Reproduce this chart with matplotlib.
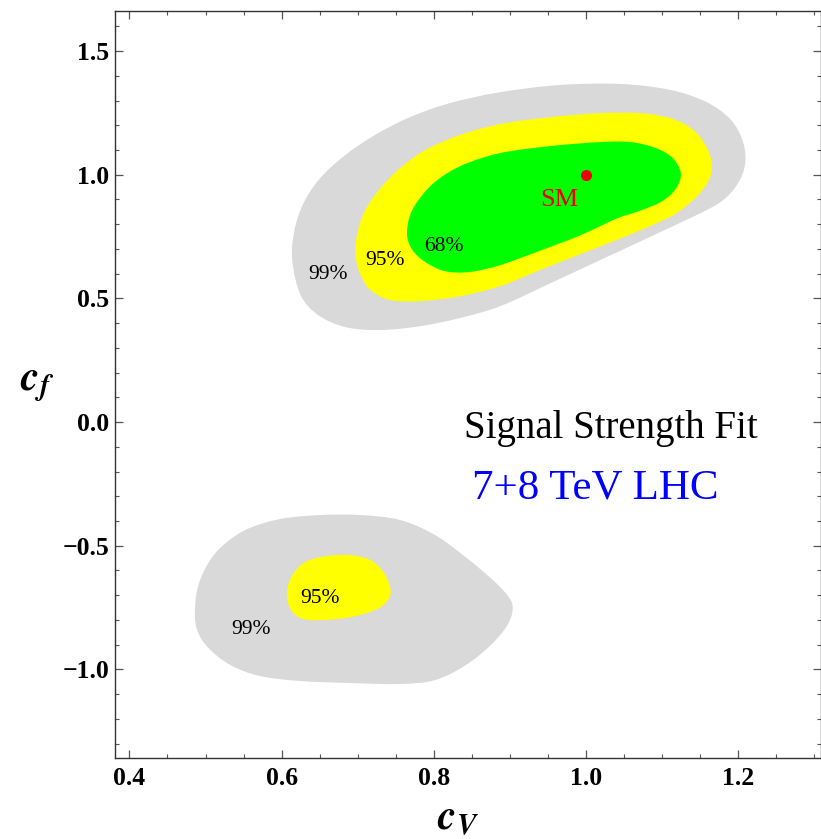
import numpy as np
import matplotlib
matplotlib.use('Agg')
import matplotlib.pyplot as plt
from matplotlib.path import Path
from matplotlib.patches import PathPatch
from matplotlib.ticker import MultipleLocator

plt.rcParams['font.family'] = ['Liberation Serif', 'DejaVu Serif']
plt.rcParams['mathtext.fontset'] = 'stix'

# contour boundaries, (cV, cf)
upper99_cv = [0.614, 0.617, 0.629, 0.651, 0.684, 0.723, 0.769, 0.822, 0.888, 0.967,
              1.046, 1.111, 1.158, 1.190, 1.206, 1.210, 1.204, 1.188, 1.164, 1.098,
              1.019, 0.954, 0.888, 0.835, 0.783, 0.730, 0.684, 0.648, 0.625]
upper99_cf = [0.655, 0.776, 0.886, 0.987, 1.080, 1.161, 1.233, 1.290, 1.334, 1.363,
              1.367, 1.343, 1.295, 1.225, 1.140, 1.059, 0.987, 0.918, 0.865, 0.768,
              0.655, 0.562, 0.469, 0.421, 0.388, 0.372, 0.384, 0.433, 0.514]

upper95_cv = [0.697, 0.700, 0.710, 0.730, 0.756, 0.789, 0.835, 0.888, 0.954, 1.019,
              1.072, 1.111, 1.138, 1.155, 1.165, 1.163, 1.148, 1.125, 1.108, 1.063,
              0.993, 0.940, 0.888, 0.835, 0.783, 0.743, 0.717, 0.704]
upper95_cf = [0.675, 0.768, 0.857, 0.946, 1.027, 1.100, 1.161, 1.205, 1.233, 1.249,
              1.249, 1.229, 1.189, 1.132, 1.059, 0.987, 0.918, 0.857, 0.825, 0.764,
              0.679, 0.615, 0.550, 0.509, 0.489, 0.493, 0.534, 0.594]

upper68_cv = [0.765, 0.769, 0.783, 0.805, 0.838, 0.888, 0.954, 1.019, 1.059, 1.092,
              1.114, 1.125, 1.119, 1.101, 1.072, 1.040, 0.993, 0.940, 0.888, 0.848,
              0.815, 0.789, 0.772]
upper68_cf = [0.756, 0.837, 0.910, 0.979, 1.039, 1.088, 1.116, 1.132, 1.132, 1.108,
              1.068, 1.007, 0.946, 0.894, 0.855, 0.822, 0.755, 0.693, 0.635, 0.607,
              0.610, 0.647, 0.696]

lower99_cv = [0.486, 0.489, 0.500, 0.519, 0.552, 0.598, 0.651, 0.704, 0.756, 0.802,
              0.842, 0.875, 0.897, 0.904, 0.897, 0.875, 0.842, 0.802, 0.756, 0.690,
              0.625, 0.572, 0.533, 0.504, 0.490]
lower99_cf = [-0.780, -0.679, -0.590, -0.510, -0.437, -0.392, -0.376, -0.376, -0.396, -0.457,
              -0.546, -0.631, -0.700, -0.752, -0.821, -0.902, -0.983, -1.043, -1.059, -1.055,
              -1.047, -1.027, -0.983, -0.914, -0.849]

lower95_cv = [0.607, 0.614, 0.631, 0.658, 0.690, 0.717, 0.734, 0.743, 0.740, 0.723,
              0.690, 0.651, 0.625, 0.611]
lower95_cf = [-0.687, -0.619, -0.566, -0.542, -0.538, -0.558, -0.607, -0.671, -0.720, -0.760,
              -0.789, -0.801, -0.793, -0.752]

sm_cv, sm_cf = 1.0, 1.0

labels = ['99%', '95%', '68%', '95%', '99%']
label_cv = [0.661, 0.736, 0.813, 0.651, 0.560]
label_cf = [0.598, 0.655, 0.708, -0.712, -0.837]

GRAY = '#d9d9d9'
YELLOW = '#ffff00'
GREEN = '#00ff00'


def smooth_patch(xs, ys, color):
    # closed Catmull-Rom curve through the traced points, drawn as cubic Beziers
    p = np.column_stack([xs, ys])
    n = len(p)
    verts = [p[0]]
    codes = [Path.MOVETO]
    for i in range(n):
        p0, p1, p2, p3 = p[i - 1], p[i], p[(i + 1) % n], p[(i + 2) % n]
        verts += [p1 + (p2 - p0) / 6, p2 - (p3 - p1) / 6, p2]
        codes += [Path.CURVE4] * 3
    verts.append(p[0])
    codes.append(Path.CLOSEPOLY)
    return PathPatch(Path(verts, codes), facecolor=color, edgecolor='none')


fig = plt.figure(figsize=(8.21, 8.39), dpi=100)
ax = fig.add_axes([0.1401, 0.0969, 0.8605, 0.890])

ax.add_patch(smooth_patch(upper99_cv, upper99_cf, GRAY))
ax.add_patch(smooth_patch(upper95_cv, upper95_cf, YELLOW))
ax.add_patch(smooth_patch(upper68_cv, upper68_cf, GREEN))
ax.add_patch(smooth_patch(lower99_cv, lower99_cf, GRAY))
ax.add_patch(smooth_patch(lower95_cv, lower95_cf, YELLOW))

for t, x, y in zip(labels, label_cv, label_cf):
    ax.text(x, y, t, fontsize=15.5, ha='center', va='center', color='black')

ax.plot([sm_cv], [sm_cf], 'o', color='#ee0000', markersize=7)
ax.text(0.965, 0.898, 'SM', fontsize=19, color='#ee0000', ha='center', va='center')

ax.text(1.033, -0.024, 'Signal Strength Fit', fontsize=28, ha='center', va='center')
ax.text(1.013, -0.267, '7+8 TeV LHC', fontsize=31, color='blue', ha='center', va='center')

ax.set_xlim(0.381, 1.310)
ax.set_ylim(-1.357, 1.662)

ax.xaxis.set_major_locator(MultipleLocator(0.2))
ax.xaxis.set_minor_locator(MultipleLocator(0.05))
ax.yaxis.set_major_locator(MultipleLocator(0.5))
ax.yaxis.set_minor_locator(MultipleLocator(0.1))
ax.tick_params(which='both', direction='in', top=True, right=True, color='#555555')
ax.tick_params(which='major', length=5.5, width=0.9)
ax.tick_params(which='minor', length=3, width=0.8)
ax.tick_params(axis='x', pad=7)
ax.tick_params(axis='y', pad=4)
for lab in ax.get_xticklabels() + ax.get_yticklabels():
    lab.set_fontweight('bold')
    lab.set_fontsize(18.5)
for s in ax.spines.values():
    s.set_color('#333333')
    s.set_linewidth(1.0)

ax.set_xlabel(r'$\mathbfit{c}_{\mathbfit{V}}$', fontsize=30)
ax.xaxis.set_label_coords(0.486, -0.056)
ax.set_ylabel(r'$\mathbfit{c}_{\mathbfit{f}}$', fontsize=30, rotation=0, va='center')
ax.yaxis.set_label_coords(-0.11, 0.5)

fig.savefig('out.png', dpi=100)
